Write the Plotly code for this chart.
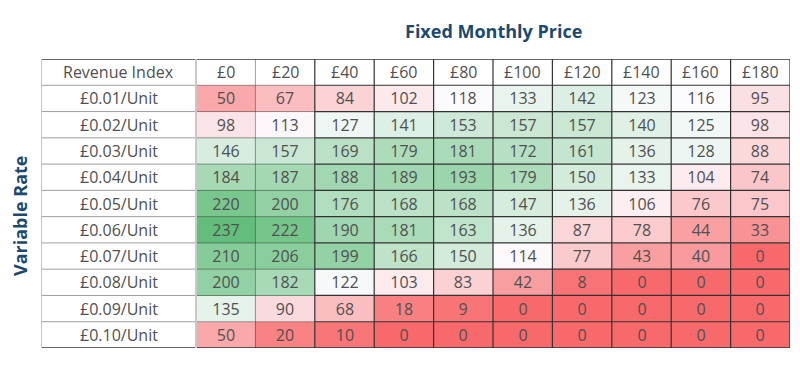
import statistics
import plotly.graph_objects as go

# ---------------- data ----------------
prices = ["£0", "£20", "£40", "£60", "£80", "£100", "£120", "£140", "£160", "£180"]
rates = ["£0.01/Unit", "£0.02/Unit", "£0.03/Unit", "£0.04/Unit", "£0.05/Unit",
         "£0.06/Unit", "£0.07/Unit", "£0.08/Unit", "£0.09/Unit", "£0.10/Unit"]
row_001 = [50, 67, 84, 102, 118, 133, 142, 123, 116, 95]
row_002 = [98, 113, 127, 141, 153, 157, 157, 140, 125, 98]
row_003 = [146, 157, 169, 179, 181, 172, 161, 136, 128, 88]
row_004 = [184, 187, 188, 189, 193, 179, 150, 133, 104, 74]
row_005 = [220, 200, 176, 168, 168, 147, 136, 106, 76, 75]
row_006 = [237, 222, 190, 181, 163, 136, 87, 78, 44, 33]
row_007 = [210, 206, 199, 166, 150, 114, 77, 43, 40, 0]
row_008 = [200, 182, 122, 103, 83, 42, 8, 0, 0, 0]
row_009 = [135, 90, 68, 18, 9, 0, 0, 0, 0, 0]
row_010 = [50, 20, 10, 0, 0, 0, 0, 0, 0, 0]
values = [row_001, row_002, row_003, row_004, row_005,
          row_006, row_007, row_008, row_009, row_010]
corner_label = "Revenue Index"
title_text = "Fixed Monthly Price"
side_title = "Variable Rate"

# ---------------- layout constants (figure pixels; page has 8px body margin) ----------------
W, H = 800, 382
OFF = 8
LEFT, RIGHT, TOP, BOTTOM = 41 - OFF, 790 - OFF, 59 - OFF, 348 - OFF
ncol, nrow = len(prices), len(rates)
col_px = 59.4
label_w = (RIGHT - LEFT) / col_px - ncol  # label column width in column units

flat = [v for r in values for v in r]
zmin, zmax = min(flat), max(flat)
zmid = statistics.median(flat)
mid_pos = (zmid - zmin) / (zmax - zmin)

TEXT_COLOR = "#505050"
FONT = "Open Sans"
TITLE_COLOR = "#1c4a6e"
FS = 16

fig = go.Figure()
fig.add_trace(go.Heatmap(
    x=[i + 0.5 for i in range(ncol)],
    y=[j + 0.5 for j in range(nrow)],
    z=values,
    zmin=zmin, zmax=zmax,
    colorscale=[[0, "#F8696B"], [mid_pos, "#FCFCFF"], [1, "#63BE7B"]],
    showscale=False,
    texttemplate="%{z}",
    textfont=dict(family=FONT, size=FS, color=TEXT_COLOR),
    hoverinfo="skip",
))

annotations = []
annotations.append(dict(x=-label_w / 2, y=-0.5, xref="x", yref="y", text=corner_label,
                        showarrow=False, font=dict(family=FONT, size=FS, color=TEXT_COLOR)))
for i, p in enumerate(prices):
    annotations.append(dict(x=i + 0.5, y=-0.5, xref="x", yref="y", text=p,
                            showarrow=False, font=dict(family=FONT, size=FS, color=TEXT_COLOR)))
for j, r in enumerate(rates):
    annotations.append(dict(x=-label_w / 2, y=j + 0.5, xref="x", yref="y", text=r,
                            showarrow=False, font=dict(family=FONT, size=FS, color=TEXT_COLOR)))
annotations.append(dict(x=ncol / 2, y=(BOTTOM - (31 - OFF)) / (BOTTOM - TOP), xref="x", yref="paper",
                        xanchor="center", yanchor="middle",
                        text="<b>" + title_text + "</b>", showarrow=False,
                        font=dict(family=FONT, size=18, color=TITLE_COLOR)))
annotations.append(dict(x=((20 - OFF) - LEFT) / (RIGHT - LEFT), y=(BOTTOM - (216 - OFF)) / (BOTTOM - TOP),
                        xref="paper", yref="paper", xanchor="center", yanchor="middle",
                        text="<b>" + side_title + "</b>",
                        textangle=-90, showarrow=False,
                        font=dict(family=FONT, size=18, color=TITLE_COLOR)))

shapes = []
DARK = "#333333"
SEMI = "rgba(40,40,40,0.45)"
LIGHT = "#c8c8c8"


def line(x0, y0, x1, y1, color, width=1.2):
    shapes.append(dict(type="line", xref="x", yref="y", x0=x0, y0=y0, x1=x1, y1=y1,
                       line=dict(color=color, width=width), layer="above"))


for j in range(0, nrow):
    line(-label_w, j, 2, j, SEMI, 1)
    line(2, j, ncol, j, DARK, 1.2)
line(-label_w, -1, ncol, -1, DARK, 1.5)
line(-label_w, nrow, ncol, nrow, DARK, 1.5)
line(-label_w, -1, -label_w, nrow, LIGHT, 2)
line(0, -1, 0, nrow, LIGHT, 2)
line(1, -1, 1, nrow, SEMI, 1)
for i in range(2, ncol + 1):
    line(i, -1, i, nrow, DARK, 1.2)

fig.update_layout(
    width=W, height=H,
    margin=dict(l=LEFT, r=W - RIGHT, t=TOP, b=H - BOTTOM),
    paper_bgcolor="white", plot_bgcolor="white",
    xaxis=dict(range=[-label_w, ncol], visible=False, fixedrange=True),
    yaxis=dict(range=[nrow, -1], visible=False, fixedrange=True),
    annotations=annotations,
    shapes=shapes,
    showlegend=False,
)

fig.write_html("out.html")
